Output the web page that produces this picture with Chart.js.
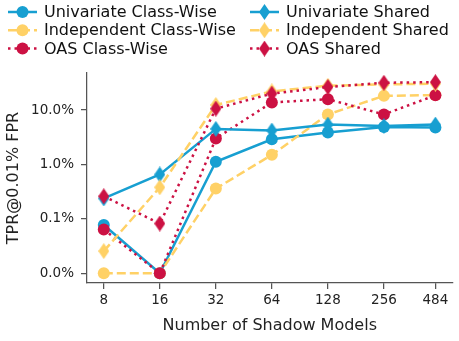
<!DOCTYPE html>
<html>
<head>
<meta charset="utf-8">
<script src="https://cdn.jsdelivr.net/npm/chart.js@4"></script>
<style>
    html, body { margin: 0; padding: 0; background: #fff; }
    canvas { display: block; }
</style>
</head>
<body>
<canvas id="myChart" width="459" height="341"></canvas>
<script>
var shadowModels = [8, 16, 32, 64, 128, 256, 484];
var yTicks = [0.01, 0.1, 1, 10];

// TPR in percent; a TPR of zero sits on the 0.01% floor ("0.0%")
var univariateClassWise = [0.077, 0.01, 1.12, 2.9, 3.85, 4.9, 4.75];
var independentClassWise = [0.01, 0.01, 0.36, 1.5, 8.3, 18.2, 18.8];
var oasClassWise = [0.064, 0.01, 3.0, 13.8, 15.8, 8.3, 18.6];
var univariateShared = [0.237, 0.655, 4.5, 4.2, 5.4, 5.1, 5.4];
var independentShared = [0.0256, 0.38, 12.4, 22, 28, 29.5, 30.5];
var oasShared = [0.26, 0.082, 10.6, 20, 26.5, 31.7, 32.5];

var BLUE = '#179fd1', YELLOW = '#ffd166', RED = '#cc1143';

function thinDiamond(color) {
    var c = document.createElement('canvas');
    c.width = 11; c.height = 16;
    var g = c.getContext('2d');
    g.fillStyle = color;
    g.beginPath();
    g.moveTo(5.5, 0); g.lineTo(11, 8); g.lineTo(5.5, 16); g.lineTo(0, 8);
    g.closePath();
    g.fill();
    return c;
}

function points(values) {
    return shadowModels.map(function(x, i) { return {x: x, y: values[i]}; });
}

function series(label, values, color, dash, marker, order) {
    return {
        label: label,
        data: points(values),
        borderColor: color,
        backgroundColor: color,
        borderWidth: 2.5,
        borderDash: dash,
        borderCapStyle: 'butt',
        pointStyle: marker === 'circle' ? 'circle' : thinDiamond(color),
        pointRadius: 6,
        pointHoverRadius: 6,
        pointBorderWidth: 0,
        tension: 0,
        order: order
    };
}

var SOLID = [], DASHED = [9, 4], DOTTED = [2.5, 4];

var datasets = [
    series('Univariate Class-Wise', univariateClassWise, BLUE, SOLID, 'circle', 5),
    series('Independent Class-Wise', independentClassWise, YELLOW, DASHED, 'circle', 4),
    series('OAS Class-Wise', oasClassWise, RED, DOTTED, 'circle', 3),
    series('Univariate Shared', univariateShared, BLUE, SOLID, 'diamond', 2),
    series('Independent Shared', independentShared, YELLOW, DASHED, 'diamond', 1),
    series('OAS Shared', oasShared, RED, DOTTED, 'diamond', 0)
];

// two-column legend like matplotlib's ncol=2
var columnLegend = {
    id: 'columnLegend',
    afterDraw: function(chart) {
        var ctx = chart.ctx;
        chart.data.datasets.forEach(function(ds, i) {
            var x0 = i < 3 ? 8 : 250;
            var y = 12 + (i % 3) * 18.3;
            ctx.save();
            ctx.strokeStyle = ds.borderColor;
            ctx.lineWidth = ds.borderWidth;
            ctx.lineCap = 'butt';
            ctx.setLineDash(ds.borderDash);
            ctx.beginPath();
            ctx.moveTo(x0, y);
            ctx.lineTo(x0 + 29, y);
            ctx.stroke();
            ctx.setLineDash([]);
            var mx = x0 + 14.5;
            if (ds.pointStyle === 'circle') {
                ctx.fillStyle = ds.backgroundColor;
                ctx.beginPath();
                ctx.arc(mx, y, 6, 0, Math.PI * 2);
                ctx.fill();
            } else {
                ctx.drawImage(ds.pointStyle, mx - 5.5, y - 8);
            }
            ctx.fillStyle = '#111';
            ctx.font = '16px "DejaVu Sans"';
            ctx.textBaseline = 'middle';
            ctx.fillText(ds.label, x0 + 36, y + 1);
            ctx.restore();
        });
    }
};

var axisColor = '#555';

var ctx = document.getElementById('myChart').getContext('2d');
var myChart = new Chart(ctx, {
    type: 'line',
    data: { datasets: datasets },
    plugins: [columnLegend],
    options: {
        responsive: false,
        animation: false,
        devicePixelRatio: 1,
        layout: { padding: { top: 73, right: 6.5, left: 0, bottom: 0 } },
        plugins: {
            legend: { display: false },
            tooltip: { enabled: false }
        },
        scales: {
            x: {
                type: 'logarithmic',
                min: 6.5,
                max: 598,
                afterBuildTicks: function(scale) {
                    scale.ticks = shadowModels.map(function(v) { return {value: v}; });
                },
                afterFit: function(scale) { scale.height = 58; },
                ticks: {
                    callback: function(v) { return String(v); },
                    font: { family: 'DejaVu Sans', size: 13.5 },
                    color: '#222',
                    padding: 3,
                    maxRotation: 0,
                    autoSkip: false
                },
                grid: { drawOnChartArea: false, tickLength: 6, color: axisColor, lineWidth: 1.25 },
                border: { color: axisColor, width: 1.25 },
                title: {
                    display: true,
                    text: 'Number of Shadow Models',
                    font: { family: 'DejaVu Sans', size: 16 },
                    color: '#222',
                    padding: { top: 0, bottom: 5.5 }
                }
            },
            y: {
                type: 'logarithmic',
                min: 0.00663,
                max: 47.9,
                afterBuildTicks: function(scale) {
                    scale.ticks = yTicks.map(function(v) { return {value: v}; });
                },
                afterFit: function(scale) { scale.width = 87; },
                ticks: {
                    callback: function(v) { return v.toFixed(1) + '%'; },
                    font: { family: 'DejaVu Sans', size: 13.5 },
                    color: '#222',
                    padding: 7,
                    autoSkip: false
                },
                grid: { drawOnChartArea: false, tickLength: 6, color: axisColor, lineWidth: 1.25 },
                border: { color: axisColor, width: 1.25 },
                title: {
                    display: true,
                    text: 'TPR@0.01% FPR',
                    font: { family: 'DejaVu Sans', size: 16 },
                    color: '#222',
                    padding: { top: 4, bottom: 0 }
                }
            }
        }
    }
});
</script>
</body>
</html>
